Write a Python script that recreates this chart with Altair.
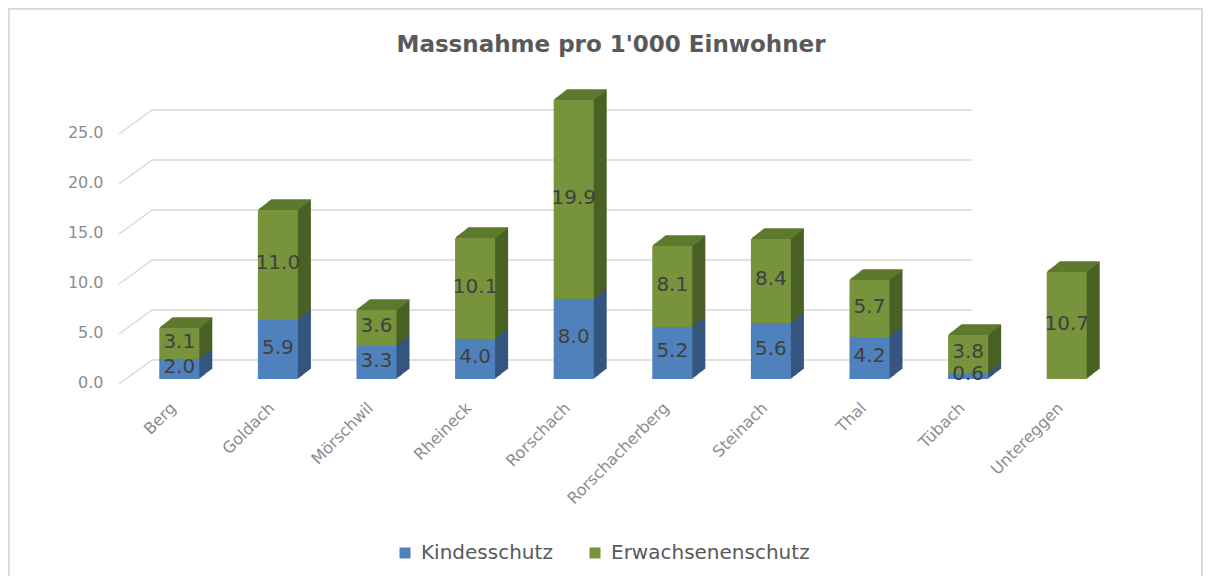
import altair as alt
import pandas as pd

# ---- data ----
gemeinden = ["Berg", "Goldach", "Mörschwil", "Rheineck", "Rorschach",
             "Rorschacherberg", "Steinach", "Thal", "Tübach", "Untereggen"]
kindesschutz = [2.0, 5.9, 3.3, 4.0, 8.0, 5.2, 5.6, 4.2, 0.6, 0.0]
erwachsenenschutz = [3.1, 11.0, 3.6, 10.1, 19.9, 8.1, 8.4, 5.7, 3.8, 10.7]
series = ["Kindesschutz", "Erwachsenenschutz"]
front_colors = ["#4f81bd", "#77933c"]
side_colors = ["#34567f", "#4b6125"]
top_color = "#5c7a2e"
y_ticks = [0, 5, 10, 15, 20, 25]
title = "Massnahme pro 1'000 Einwohner"

FONT = "DejaVu Sans"

# ---- tables built from the arrays ----
rows = []
for g, k, e in zip(gemeinden, kindesschutz, erwachsenenschutz):
    rows.append(dict(g=g, s=series[0], v=k, y0=0.0, y1=k, ord=0,
                     side=side_colors[0]))
    rows.append(dict(g=g, s=series[1], v=e, y0=k, y1=k + e, ord=1,
                     side=side_colors[1]))
df = pd.DataFrame(rows)
df["mid"] = (df["y0"] + df["y1"]) / 2
tot = pd.DataFrame({"g": gemeinden,
                    "total": [k + e for k, e in zip(kindesschutz, erwachsenenschutz)]})
grid = pd.DataFrame({"t": y_ticks})

W, H = 986, 280
x_scale = alt.Scale(domain=gemeinden, paddingInner=0.594, paddingOuter=0.297)
y_scale = alt.Scale(domain=[0, 28], nice=False)

X = alt.X("g:N", scale=x_scale, sort=gemeinden,
          axis=alt.Axis(title=None, labelAngle=-45, labelAlign="right",
                        labelBaseline="middle", labelPadding=26, labelOffset=-6,
                        labelFont=FONT, labelFontSize=16, labelColor="#8c8c8c",
                        domain=False, ticks=False, grid=False))

layers = []

# back-wall gridlines
gl = alt.Chart(grid).mark_rule(color="#d9d9d9", strokeWidth=1.5, yOffset=-19, y2Offset=-19).encode(
    x=alt.value(22), x2=alt.value(842),
    y=alt.Y("t:Q", scale=y_scale,
            axis=alt.Axis(title=None, values=y_ticks, format=".1f", grid=False,
                          domain=False, ticks=False, labelPadding=27, labelOffset=3,
                          labelFont=FONT, labelFontSize=16, labelColor="#8c8c8c")),
    y2="t:Q")
diag = alt.Chart(grid).mark_rule(color="#d9d9d9", strokeWidth=1.5, yOffset=5, y2Offset=-19).encode(
    x=alt.value(-11), x2=alt.value(22),
    y=alt.Y("t:Q", scale=y_scale), y2="t:Q")
layers += [gl, diag]

# extrusion (side faces)
N = 13
DX, DY = 13.0, 10.0
for k in range(N, 0, -1):
    dx = DX * k / N
    dy = DY * k / N
    layers.append(
        alt.Chart(df).mark_bar(xOffset=dx, yOffset=-dy, y2Offset=-dy).encode(
            x=X,
            y=alt.Y("y1:Q", scale=y_scale),
            y2="y0:Q",
            color=alt.Color("side:N", scale=None, legend=None),
        ))
# top faces
for k in range(N, 0, -1):
    dx = DX * k / N
    dy = DY * k / N
    layers.append(
        alt.Chart(tot).mark_bar(color=top_color, xOffset=dx,
                                yOffset=-dy - 0.7, y2Offset=-dy + 0.7).encode(
            x=X,
            y=alt.Y("total:Q", scale=y_scale),
            y2="total:Q",
        ))

# front faces
front = alt.Chart(df).mark_bar().encode(
    x=X,
    y=alt.Y("y1:Q", scale=y_scale),
    y2="y0:Q",
    color=alt.Color("s:N", scale=alt.Scale(domain=series, range=front_colors),
                    sort=series,
                    legend=alt.Legend(title=None, orient="none", legendX=265, legendY=444,
                                      direction="horizontal", columns=2, columnPadding=32,
                                      symbolType="square", symbolSize=121, symbolStrokeWidth=0,
                                      labelFont=FONT, labelFontSize=20, labelColor="#595959",
                                      labelOffset=6, labelLimit=400, padding=0)),
)
layers.append(front)

labels = alt.Chart(df).transform_filter("datum.v > 0").mark_text(
    font=FONT, fontSize=20, color="#404040", dy=-2).encode(
    x=X,
    y=alt.Y("mid:Q", scale=y_scale),
    text=alt.Text("v:Q", format=".1f"),
)
layers.append(labels)

# chart frame (decoration)
frame_l = alt.Chart(grid).mark_rule(color="#d9d9d9", strokeWidth=1.5).encode(
    x=alt.value(-121.5), y=alt.value(-90.5), y2=alt.value(500))
frame_t = alt.Chart(grid).mark_rule(color="#d9d9d9", strokeWidth=1.5).encode(
    x=alt.value(-121.5), x2=alt.value(1072), y=alt.value(-90.5))
frame_r = alt.Chart(grid).mark_rule(color="#d9d9d9", strokeWidth=1.5).encode(
    x=alt.value(1072), y=alt.value(-90.5), y2=alt.value(500))
layers += [frame_l, frame_t, frame_r]

chart = alt.layer(*layers).resolve_scale(color="independent").properties(
    width=W, height=H,
    autosize=alt.AutoSizeParams(type="none"),
    padding={"left": 122, "top": 91, "right": 87, "bottom": 197},
    title=alt.TitleParams(title, font=FONT, fontSize=23, fontWeight="bold",
                          color="#595959", anchor="middle", frame="group",
                          offset=-43, dx=-12, dy=24, baseline="alphabetic"),
).configure_view(stroke=None)

chart.save("out.html", embed_options={"renderer": "svg", "actions": False})
